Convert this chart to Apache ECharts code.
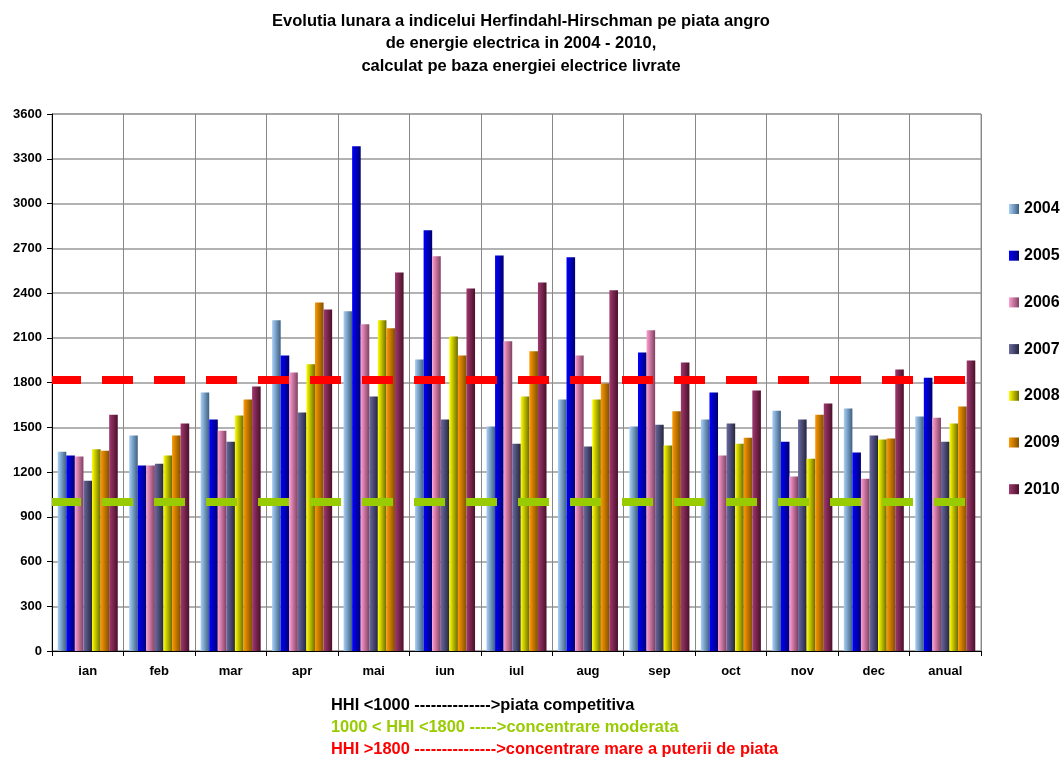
<!DOCTYPE html>
<html>
<head>
<meta charset="utf-8">
<script src="https://cdn.jsdelivr.net/npm/echarts@6/dist/echarts.min.js"></script>
<style>
  html, body { margin: 0; padding: 0; background: #fff; }
  #chart-container { width: 1064px; height: 758px; }
</style>
</head>
<body>
<div id="chart-container"></div>
<script>
// categorii (luni + anual)
var months = ['ian', 'feb', 'mar', 'apr', 'mai', 'iun', 'iul', 'aug', 'sep', 'oct', 'nov', 'dec', 'anual'];
var years = ['2004', '2005', '2006', '2007', '2008', '2009', '2010'];

// valori HHI
var hhi2004 = [1336, 1445, 1733, 2217, 2277, 1954, 1505, 1686, 1505, 1552, 1611, 1626, 1572];
var hhi2005 = [1311, 1244, 1552, 1981, 3384, 2821, 2652, 2639, 2001, 1733, 1403, 1331, 1832];
var hhi2006 = [1304, 1244, 1477, 1867, 2190, 2647, 2076, 1981, 2150, 1311, 1169, 1155, 1564];
var hhi2007 = [1142, 1256, 1403, 1599, 1706, 1552, 1390, 1371, 1517, 1525, 1552, 1445, 1403];
var hhi2008 = [1353, 1311, 1579, 1922, 2217, 2108, 1706, 1686, 1378, 1390, 1289, 1418, 1525];
var hhi2009 = [1343, 1445, 1686, 2336, 2163, 1981, 2009, 1793, 1607, 1430, 1584, 1425, 1639];
var hhi2010 = [1584, 1525, 1773, 2289, 2538, 2431, 2471, 2418, 1934, 1746, 1659, 1887, 1947];

// praguri
var pragModerat = 1000;
var pragMare = 1820;

var yTicks = [0, 300, 600, 900, 1200, 1500, 1800, 2100, 2400, 2700, 3000, 3300, 3600];

// culori gradient (stanga deschis -> dreapta inchis)
var colorPairs = [
  ['#a8d0f8', '#3d5f80'],
  ['#0000ff', '#000070'],
  ['#ff9fd0', '#804060'],
  ['#6a6aa0', '#262640'],
  ['#ffff00', '#6a6a00'],
  ['#ff9900', '#805000'],
  ['#a03870', '#4a1028']
];

var allData = [hhi2004, hhi2005, hhi2006, hhi2007, hhi2008, hhi2009, hhi2010];

var container = document.getElementById('chart-container');
var myChart = echarts.init(container);

var series = years.map(function (y, i) {
  return {
    name: y,
    type: 'bar',
    barGap: '0%',
    barCategoryGap: '16%',
    itemStyle: {
      color: new echarts.graphic.LinearGradient(0, 0, 1, 0, [
        { offset: 0, color: colorPairs[i][0] },
        { offset: 1, color: colorPairs[i][1] }
      ])
    },
    data: allData[i]
  };
});

// liniile de prag, peste bare
series[6].markLine = {
  silent: true,
  symbol: 'none',
  label: { show: false },
  z: 10,
  data: [
    { yAxis: pragMare, lineStyle: { color: '#ff0000', width: 8, type: [31, 21], dashOffset: 2, opacity: 1 } },
    { yAxis: pragModerat, lineStyle: { color: '#99cc00', width: 8, type: [31, 21], dashOffset: 2, opacity: 1 } }
  ]
};

myChart.setOption({
  animation: false,
  textStyle: { fontFamily: 'Liberation Sans' },
  title: [
    {
      text: 'Evolutia lunara a indicelui Herfindahl-Hirschman pe piata angro\nde energie electrica in 2004 - 2010,\ncalculat pe baza energiei electrice livrate',
      left: 516,
      top: 5,
      textAlign: 'center',
      textStyle: { fontSize: 16.5, fontWeight: 'bold', color: '#000', lineHeight: 22.5, fontFamily: 'Liberation Sans' }
    },
    {
      text: '{a|HHI <1000 -------------->piata competitiva}\n{b|1000 < HHI <1800 ----->concentrare moderata}\n{c|HHI >1800 --------------->concentrare mare a puterii de piata}',
      left: 326,
      top: 689,
      textStyle: {
        fontFamily: 'Liberation Sans',
        rich: {
          a: { fontSize: 16.4, fontWeight: 'bold', color: '#000', lineHeight: 22, fontFamily: 'Liberation Sans' },
          b: { fontSize: 16.4, fontWeight: 'bold', color: '#99cc00', lineHeight: 22, fontFamily: 'Liberation Sans' },
          c: { fontSize: 16.4, fontWeight: 'bold', color: '#ff0000', lineHeight: 22, fontFamily: 'Liberation Sans' }
        }
      }
    }
  ],
  legend: {
    data: years,
    orient: 'vertical',
    left: 1004,
    top: 196,
    itemWidth: 10,
    itemHeight: 10,
    itemGap: 30.7,
    icon: 'rect',
    textStyle: { fontSize: 16, fontWeight: 'bold', color: '#000', fontFamily: 'Liberation Sans' }
  },
  grid: {
    left: 52,
    right: 83,
    top: 114,
    bottom: 107,
    show: true,
    borderColor: '#999',
    borderWidth: 1
  },
  xAxis: {
    type: 'category',
    data: months,
    axisLine: { lineStyle: { color: '#000', width: 1 } },
    axisTick: { show: true, length: 5, lineStyle: { color: '#000' } },
    axisLabel: { fontSize: 13, fontWeight: 'bold', color: '#000', margin: 14, fontFamily: 'Liberation Sans' },
    splitLine: { show: true, lineStyle: { color: '#888', width: 1 } }
  },
  yAxis: {
    type: 'value',
    min: yTicks[0],
    max: yTicks[yTicks.length - 1],
    interval: 300,
    axisLine: { show: true, lineStyle: { color: '#000', width: 1 } },
    axisTick: { show: true, length: 5, lineStyle: { color: '#000' } },
    axisLabel: {
      fontSize: 13, fontWeight: 'bold', color: '#000', margin: 10, fontFamily: 'Liberation Sans',
      formatter: function (v) { return String(v); }
    },
    splitLine: { show: true, lineStyle: { color: '#999', width: 1.5 } }
  },
  series: series
});
</script>
</body>
</html>
